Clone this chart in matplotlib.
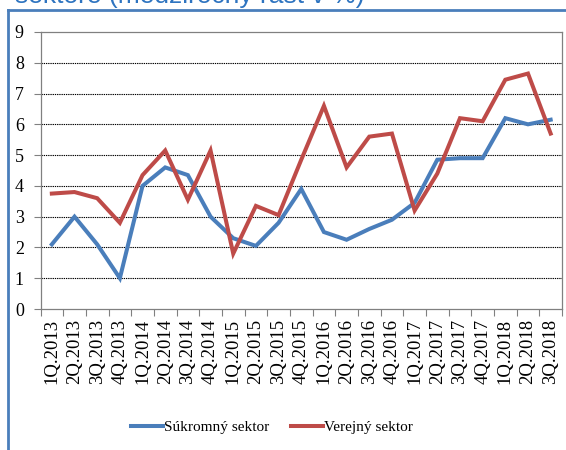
import matplotlib
matplotlib.use('Agg')
from matplotlib import pyplot as plt
from matplotlib.lines import Line2D
import numpy as np

# Quarterly labels and growth rates (y/y, %)
quarters = ['1Q.2013', '2Q.2013', '3Q.2013', '4Q.2013',
            '1Q.2014', '2Q.2014', '3Q.2014', '4Q.2014',
            '1Q.2015', '2Q.2015', '3Q.2015', '4Q.2015',
            '1Q.2016', '2Q.2016', '3Q.2016', '4Q.2016',
            '1Q.2017', '2Q.2017', '3Q.2017', '4Q.2017',
            '1Q.2018', '2Q.2018', '3Q.2018']
private = [2.1, 3.0, 2.1, 1.0, 4.0, 4.6, 4.35, 3.0,
           2.3, 2.05, 2.8, 3.9, 2.5, 2.25, 2.6, 2.9,
           3.45, 4.85, 4.9, 4.9, 6.2, 6.0, 6.15]
public = [3.75, 3.8, 3.6, 2.8, 4.35, 5.15, 3.55, 5.15,
          1.8, 3.35, 3.05, 4.85, 6.6, 4.6, 5.6, 5.7,
          3.2, 4.4, 6.2, 6.1, 7.45, 7.65, 5.7]
series_names = ['Súkromný sektor', 'Verejný sektor']
yticks = list(range(0, 10))

blue = '#4a7ebb'
red = '#be4b48'

plt.rcParams['font.family'] = ['Liberation Serif', 'DejaVu Serif']

fig = plt.figure(figsize=(5.66, 4.5), dpi=100)
ax = fig.add_axes([40.5 / 566, 1 - 309 / 450, (562 - 40.5) / 566, (309 - 32) / 450])

x = np.arange(len(quarters))
ax.plot(x, private, color=blue, lw=2.9, solid_joinstyle='miter')
ax.plot(x, public, color=red, lw=2.9, solid_joinstyle='miter')

ax.set_xlim(-0.5, len(quarters) - 0.5)
ax.set_ylim(0, 9)
ax.set_yticks(yticks)
ax.set_yticklabels([str(v) for v in yticks], fontsize=13)
for v in yticks[1:-1]:
    ax.axhline(v, color='black', lw=0.8, ls=(0, (1.2, 0.8)), zorder=0)

# category ticks at boundaries, labels at centers
ax.set_xticks(np.arange(len(quarters) + 1) - 0.5)
ax.set_xticklabels([])
ax.set_xticks(x, minor=True)
ax.set_xticklabels(quarters, minor=True, rotation=90, fontsize=13.5)
ax.tick_params(axis='x', which='minor', length=0, pad=7)
ax.tick_params(axis='x', which='major', length=5, color='#808080', width=0.8)
ax.tick_params(axis='y', length=5, color='#808080', width=0.8, pad=7)

for s in ax.spines.values():
    s.set_color('#808080')
    s.set_linewidth(0.9)

handles = [Line2D([], [], color=blue, lw=2.9), Line2D([], [], color=red, lw=2.9)]
fig.legend(handles, series_names, loc='center', bbox_to_anchor=(272 / 566, 1 - 427 / 450),
           ncol=2, frameon=False, fontsize=11, handlelength=2.1, handletextpad=0.1,
           columnspacing=1.4, borderaxespad=0, borderpad=0)

# blue frame of the original box and the cut-off title
fig.add_artist(Line2D([8 / 566, 8 / 566], [0, 1 - 10 / 450], color=blue, lw=2,
                      transform=fig.transFigure))
fig.add_artist(Line2D([8 / 566, 1], [1 - 10 / 450, 1 - 10 / 450], color=blue, lw=2,
                      transform=fig.transFigure))
fig.text(15 / 566, 1 - 3 / 450, 'sektore (medziročný rast v %)', color='#2e74c0',
         fontsize=19, family=['Liberation Sans', 'DejaVu Sans'], va='baseline', ha='left')

plt.savefig('out.png', dpi=100)
